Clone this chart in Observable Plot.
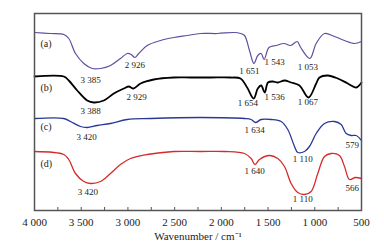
<!DOCTYPE html>
<html>
<head>
<meta charset="utf-8">
<script src="https://cdn.jsdelivr.net/npm/d3@7"></script>
<script src="https://cdn.jsdelivr.net/npm/@observablehq/plot@0.6"></script>
<style>
  html, body { margin: 0; padding: 0; background: #fff; }
</style>
</head>
<body>
<div id="chart"></div>
<script>
const waveA = [4000,3829,3686,3633,3561,3472,3382,3294,3187,3080,3008,2965,2926,2884,2794,2652,2509,2366,2223,2041,1859,1795,1752,1699,1651,1610,1574,1543,1490,1413,1330,1258,1188,1151,1053,985,896,789,682,575,500];
const transA = [178,177,176,172,157,147,142,142,145,152,157,156,153,157,165,170,173,175,177,177,178,177,175,160,147,155,157,151,163,165,167,165,169,163,152,167,177,174,170,167,169];

const waveB = [4000,3686,3633,3543,3436,3365,3258,3151,3044,2991,2940,2865,2723,2509,2330,2116,1902,1795,1724,1654,1610,1574,1536,1501,1449,1396,1324,1253,1164,1067,985,950,861,754,647,557,500];
const transB = [134,134,130,120,110,108,110,117,122,124,122,127,131,133,133,133,133,132,123,112,122,125,118,128,129,128,130,128,125,113,127,133,135,132,127,123,128];

const waveC = [4000,3686,3615,3508,3436,3329,3187,3008,2758,2223,1752,1681,1634,1574,1467,1360,1289,1217,1182,1110,1057,985,896,789,718,664,610,557,500];
const transC = [92,92,89,84,83,85,87,91,92,93,92,91,88,91,91,89,81,64,58,59,64,77,87,89,86,77,75,75,70];

const waveD = [4000,3686,3633,3561,3472,3401,3294,3187,3080,2973,2794,2509,2223,1966,1752,1681,1640,1592,1485,1396,1324,1253,1182,1110,1039,968,896,825,736,682,629,566,500];
const transD = [59,56,51,37,29,27,29,37,46,52,56,59,59,59,57,52,46,51,55,52,44,27,18,16,19,37,54,57,55,44,31,33,32];

const seriesNames = ["(a)","(b)","(c)","(d)"];
const seriesLabelX = [3936,3936,3936,3936];
const seriesLabelY = [167,123,84,47];

const peakText = ["3 385","2 926","1 651","1 543","1 053","3 388","2 929","1 654","1 536","1 067","3 420","1 634","1 110","579","3 420","1 640","1 110","566"];
const peakX = [3400,2926,1699,1431,1075,3400,2908,1717,1431,1075,3443,1645,1128,600,3430,1645,1128,600];
const peakY = [130,145,139,148,143,99,113,107,113,108,73,80,51,65,18,39,11,22];

const xTicks = [4000,3500,3000,2500,2000,1500,1000,500];
const xMinorTicks = [4000,3750,3500,3250,3000,2750,2500,2250,2000,1750,1500,1250,1000,750,500];
const axisTitle = "Wavenumber / cm\u207B\u00B9";

const fmt = d => d >= 1000 ? `${Math.floor(d/1000)} ${String(d % 1000).padStart(3, "0")}` : String(d);

const toRows = (w, t) => w.map((x, i) => ({w: x, t: t[i]}));
const labels = seriesNames.map((s, i) => ({s, w: seriesLabelX[i], t: seriesLabelY[i]}));
const peaks = peakText.map((s, i) => ({s, w: peakX[i], t: peakY[i]}));

const chart = Plot.plot({
  width: 384,
  height: 246,
  marginLeft: 34,
  marginRight: 23,
  marginTop: 13,
  marginBottom: 36,
  style: {fontFamily: "'Liberation Serif', serif", fontSize: "11px", background: "#fff", color: "#222"},
  x: {domain: [4000, 500], axis: null},
  y: {domain: [0, 197], axis: null},
  marks: [
    Plot.line(toRows(waveA, transA), {x: "w", y: "t", stroke: "#5f4f9f", strokeWidth: 1.2, curve: "catmull-rom"}),
    Plot.line(toRows(waveB, transB), {x: "w", y: "t", stroke: "#000", strokeWidth: 1.8, curve: "catmull-rom"}),
    Plot.line(toRows(waveC, transC), {x: "w", y: "t", stroke: "#2b3896", strokeWidth: 1.3, curve: "catmull-rom"}),
    Plot.line(toRows(waveD, transD), {x: "w", y: "t", stroke: "#d42b2b", strokeWidth: 1.3, curve: "catmull-rom"}),
    Plot.text(labels, {x: "w", y: "t", text: "s", textAnchor: "start", fontSize: 10, fill: "#222"}),
    Plot.text(peaks, {x: "w", y: "t", text: "s", fontSize: 9, fill: "#222"}),
    Plot.ruleX(xMinorTicks, {x: d => d, y1: 0, y2: 3, stroke: "#555", strokeWidth: 1}),
    Plot.frame({stroke: "#555", strokeWidth: 1.5}),
    Plot.axisX({ticks: xTicks, tickSize: 0, tickPadding: 8, tickFormat: fmt, label: null, fontSize: 11, fill: "#222"}),
    Plot.text([axisTitle], {frameAnchor: "bottom", dy: 29, text: d => d, fontSize: 11, fill: "#222"})
  ]
});
document.getElementById("chart").appendChild(chart);
</script>
</body>
</html>
